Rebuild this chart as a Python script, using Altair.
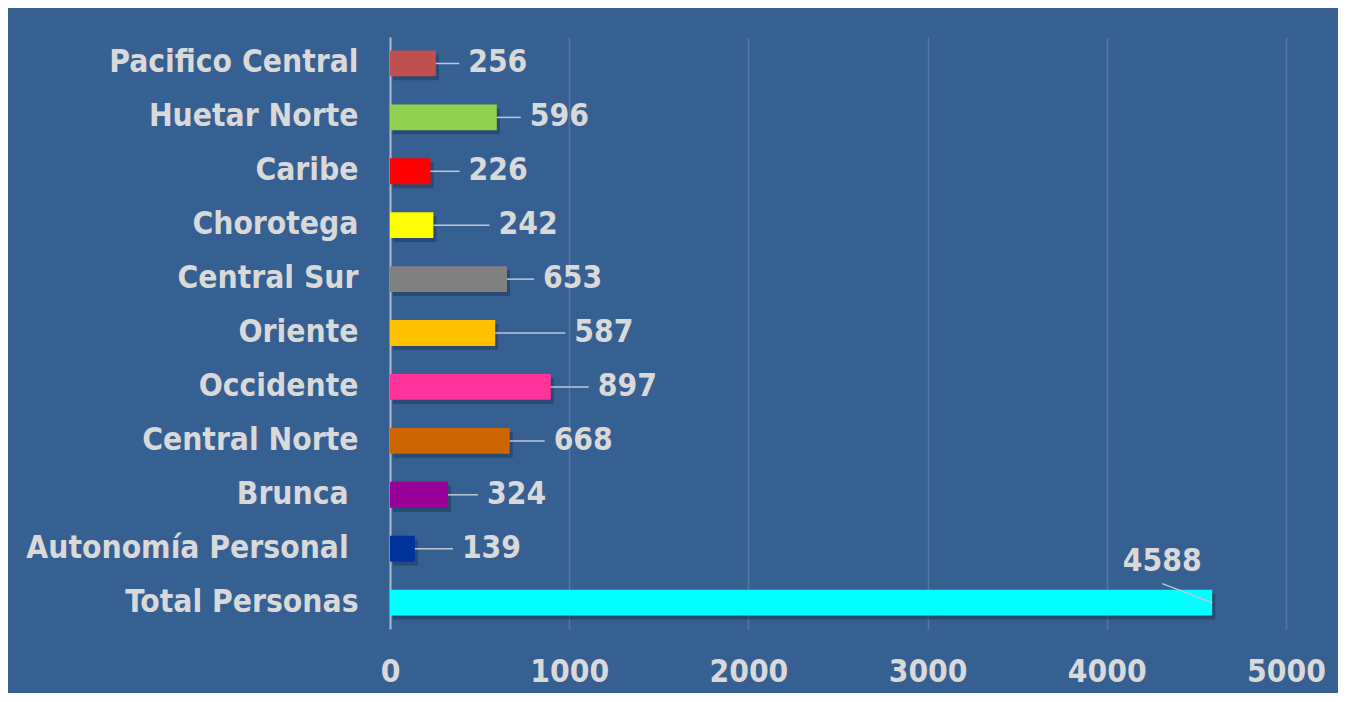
import altair as alt
import pandas as pd

categories = ["Pacifico Central", "Huetar Norte", "Caribe", "Chorotega", "Central Sur",
              "Oriente", "Occidente", "Central Norte", "Brunca\u00a0\u200b",
              "Autonomía Personal\u00a0\u200b", "Total Personas"]
values = [256, 596, 226, 242, 653, 587, 897, 668, 324, 139, 4588]
colors = ["#C0504D", "#92D050", "#FF0000", "#FFFF00", "#808080", "#FFC000",
          "#FF3399", "#CC6600", "#990099", "#003399", "#00FFFF"]
# leader-line length in data units (negative: label sits back over the bar)
leader_len = [130, 134, 162, 313, 151, 391, 212, 195, 167, 212, -279]
# vertical rise (px) of the leader line end
leader_rise = [0, 0, 0, 0, 0, 0, 0, 0, 0, 0, -19]
x_ticks = [0, 1000, 2000, 3000, 4000, 5000]

BAND_HALF = 13  # half of the bar thickness, to centre leaders on the bars

df = pd.DataFrame({
    "cat": categories,
    "val": values,
    "color": colors,
    "lx": [v + l for v, l in zip(values, leader_len)],
    "is_total": [c == "Total Personas" for c in categories],
})

lines = []
for c, v, l, r in zip(categories, values, leader_len, leader_rise):
    lines.append({"cat": c, "x": v, "off": BAND_HALF, "ord": 0})
    lines.append({"cat": c, "x": v + l, "off": BAND_HALF + r, "ord": 1})
ldf = pd.DataFrame(lines)

FONT = "DejaVu Sans Condensed, Liberation Sans"
FS = 31.5
TXT = "#D9D9D9"

yscale = alt.Scale(domain=categories, paddingInner=0.52, paddingOuter=0.25)
xscale = alt.Scale(domain=[0, 5000], nice=False)

base = alt.Chart(df)

shadow = base.mark_bar(color="#1B2F4D", opacity=0.45, xOffset=3, yOffset=4).encode(
    x=alt.X("val:Q", scale=xscale),
    y=alt.Y("cat:N", scale=yscale, sort=categories),
)

bars = base.mark_bar().encode(
    x=alt.X("val:Q", scale=xscale, axis=alt.Axis(
        values=x_ticks, format="d", title=None, grid=True, gridColor="#FFFFFF",
        gridOpacity=0.15, gridWidth=1.5, domain=False, ticks=False, tickSize=0,
        labelPadding=27, labelFlush=False, labelFont=FONT, labelFontSize=FS,
        labelFontWeight="bold", labelColor=TXT, labelBaseline="top")),
    y=alt.Y("cat:N", scale=yscale, sort=categories, axis=alt.Axis(
        title=None, ticks=False, tickSize=0, domain=True, domainColor="#A9B9D0",
        domainWidth=2, labelPadding=32, labelFont=FONT, labelFontSize=FS,
        labelFontWeight="bold", labelColor=TXT, labelLimit=400)),
    color=alt.Color("color:N", scale=None),
)

leaders = alt.Chart(ldf).mark_line(color="#BFC8D6", strokeWidth=1.5).encode(
    x=alt.X("x:Q", scale=xscale),
    y=alt.Y("cat:N", scale=yscale, sort=categories),
    yOffset=alt.YOffset("off:Q", scale=None),
    detail="cat:N",
    order="ord:Q",
)

labels = base.transform_filter("!datum.is_total").mark_text(
    align="left", baseline="middle", dx=9, font=FONT, fontSize=FS,
    fontWeight="bold", color=TXT).encode(
    x=alt.X("lx:Q", scale=xscale),
    y=alt.Y("cat:N", scale=yscale, sort=categories),
    text="val:Q",
)

total_label = base.transform_filter("datum.is_total").mark_text(
    align="center", baseline="middle", dy=-41, font=FONT, fontSize=FS,
    fontWeight="bold", color=TXT).encode(
    x=alt.X("lx:Q", scale=xscale),
    y=alt.Y("cat:N", scale=yscale, sort=categories),
    text="val:Q",
)

chart = alt.layer(shadow, bars, leaders, labels, total_label).properties(
    width=896, height=592,
    autosize=alt.AutoSizeParams(type="none"),
    padding={"left": 382, "top": 29, "right": 52, "bottom": 64},
    background="#376092",
).configure_view(stroke=None)

chart.save("out.html", embed_options={"renderer": "svg", "actions": False})
